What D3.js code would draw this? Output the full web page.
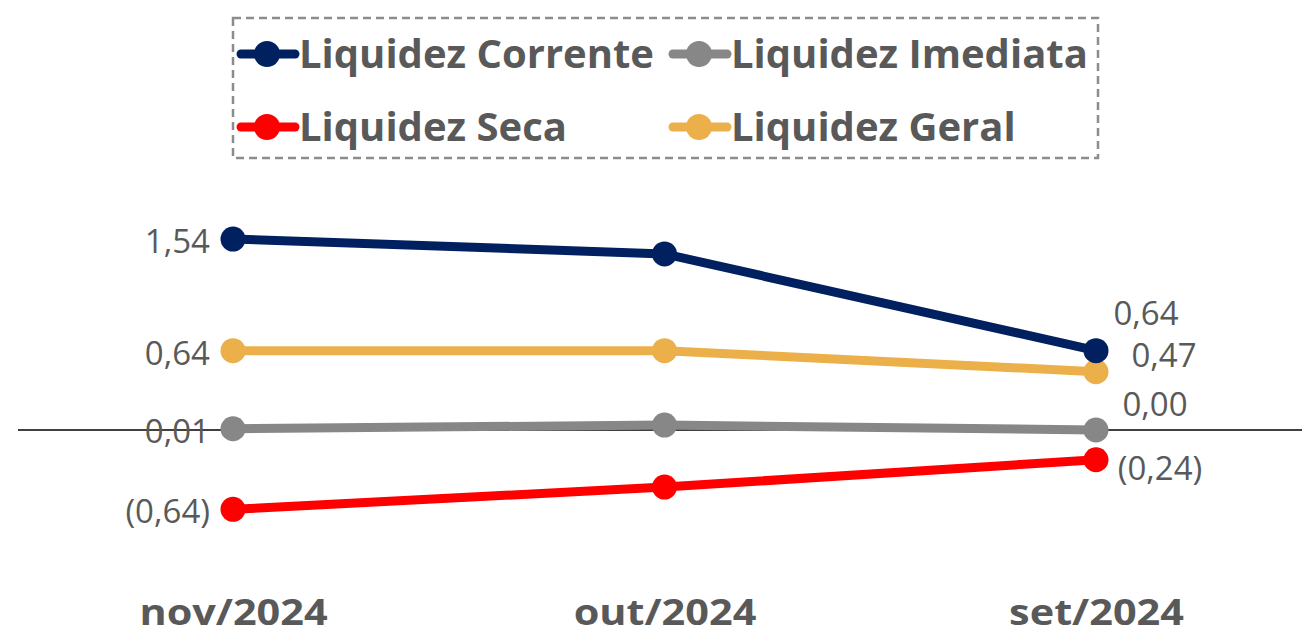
<!DOCTYPE html>
<html>
<head>
<meta charset="utf-8">
<script src="https://cdn.jsdelivr.net/npm/d3@7"></script>
<style>
  html, body { margin: 0; padding: 0; background: #fff; }
  svg { display: block; }
  text { font-family: "Open Sans", "Noto Sans", sans-serif; fill: #595959; }
</style>
</head>
<body>
<svg id="chart" width="1302" height="636"></svg>
<script>
const categories = ['nov/2024', 'out/2024', 'set/2024'];

const seriesNames = ['Liquidez Corrente', 'Liquidez Imediata', 'Liquidez Seca', 'Liquidez Geral'];
const corrente = [1.54, 1.42, 0.64];
const imediata = [0.01, 0.04, 0.00];
const seca = [-0.64, -0.46, -0.24];
const geral = [0.64, 0.64, 0.47];

const colors = ['#002060', '#878787', '#FF0000', '#EBB04A'];

const series = [
  { name: seriesNames[0], values: corrente, color: colors[0], lastPos: [50, -38] },
  { name: seriesNames[1], values: imediata, color: colors[1], lastPos: [59, -26] },
  { name: seriesNames[2], values: seca, color: colors[2], lastPos: [64, 8] },
  { name: seriesNames[3], values: geral, color: colors[3], lastPos: [68, -17] },
];

const svg = d3.select('#chart');

const x = d3.scalePoint().domain(categories).range([233, 1096]);
const y = d3.scaleLinear().domain([-1, 2]).range([554, 182]);

const locale = d3.formatLocale({ decimal: ',', thousands: '.', grouping: [3], currency: ['R$', ''] });
const f2 = locale.format('.2f');
const fmt = (v) => (v < 0 ? `(${f2(-v)})` : f2(v));

// zero line
svg.append('line')
  .attr('x1', 18).attr('x2', 1302)
  .attr('y1', y(0)).attr('y2', y(0))
  .attr('stroke', '#000').attr('stroke-width', 1.5);

// category axis (no line, only labels)
const xAxis = d3.axisBottom(x).tickSize(0).tickPadding(0);
const gx = svg.append('g').attr('transform', 'translate(0,599)').call(xAxis);
gx.select('.domain').remove();
gx.selectAll('text')
  .attr('font-size', 36)
  .attr('font-weight', 700)
  .attr('fill', '#595959')
  .style('font-family', '"Open Sans", sans-serif')
  .each(function () {
    const w = this.getComputedTextLength();
    d3.select(this).attr('textLength', w * 1.15).attr('lengthAdjust', 'spacingAndGlyphs');
  });

const line = d3.line()
  .x((d, i) => x(categories[i]))
  .y((d) => y(d));

// labels drawn first so lines sit on top (as in the reference)
series.forEach((s) => {
  const first = s.values[0];
  svg.append('text')
    .attr('x', x(categories[0]) - 23)
    .attr('y', y(first) + 14)
    .attr('text-anchor', 'end')
    .attr('font-size', 33)
    .text(fmt(first));

  const last = s.values[s.values.length - 1];
  svg.append('text')
    .attr('x', x(categories[categories.length - 1]) + s.lastPos[0])
    .attr('y', y(last) + s.lastPos[1] + 12)
    .attr('text-anchor', 'middle')
    .attr('font-size', 33)
    .text(fmt(last));
});

const draw = [series[1], series[2], series[3], series[0]];
draw.forEach((s) => {
  const g = svg.append('g');
  g.append('path')
    .datum(s.values)
    .attr('d', line)
    .attr('fill', 'none')
    .attr('stroke', s.color)
    .attr('stroke-width', 9)
    .attr('stroke-linejoin', 'round');
  g.selectAll('circle')
    .data(s.values)
    .join('circle')
    .attr('cx', (d, i) => x(categories[i]))
    .attr('cy', (d) => y(d))
    .attr('r', 12.5)
    .attr('fill', s.color);
});

// legend
const legend = svg.append('g');
legend.append('rect')
  .attr('x', 233).attr('y', 18)
  .attr('width', 865).attr('height', 140)
  .attr('fill', 'none')
  .attr('stroke', '#8c8c8c')
  .attr('stroke-width', 2.5)
  .attr('stroke-dasharray', '8,5');

const legendPos = [[237, 54], [669, 54], [237, 127], [669, 127]];
series.forEach((s, i) => {
  const [lx, ly] = legendPos[i];
  const item = legend.append('g').attr('transform', `translate(${lx},${ly})`);
  item.append('line')
    .attr('x1', 4).attr('x2', 58)
    .attr('stroke', s.color).attr('stroke-width', 9)
    .attr('stroke-linecap', 'round');
  item.append('circle').attr('cx', 30).attr('r', 13).attr('fill', s.color);
  item.append('text')
    .attr('x', 62)
    .attr('y', 14)
    .attr('font-size', 40)
    .attr('font-weight', 700)
    .text(s.name);
});
</script>
</body>
</html>
